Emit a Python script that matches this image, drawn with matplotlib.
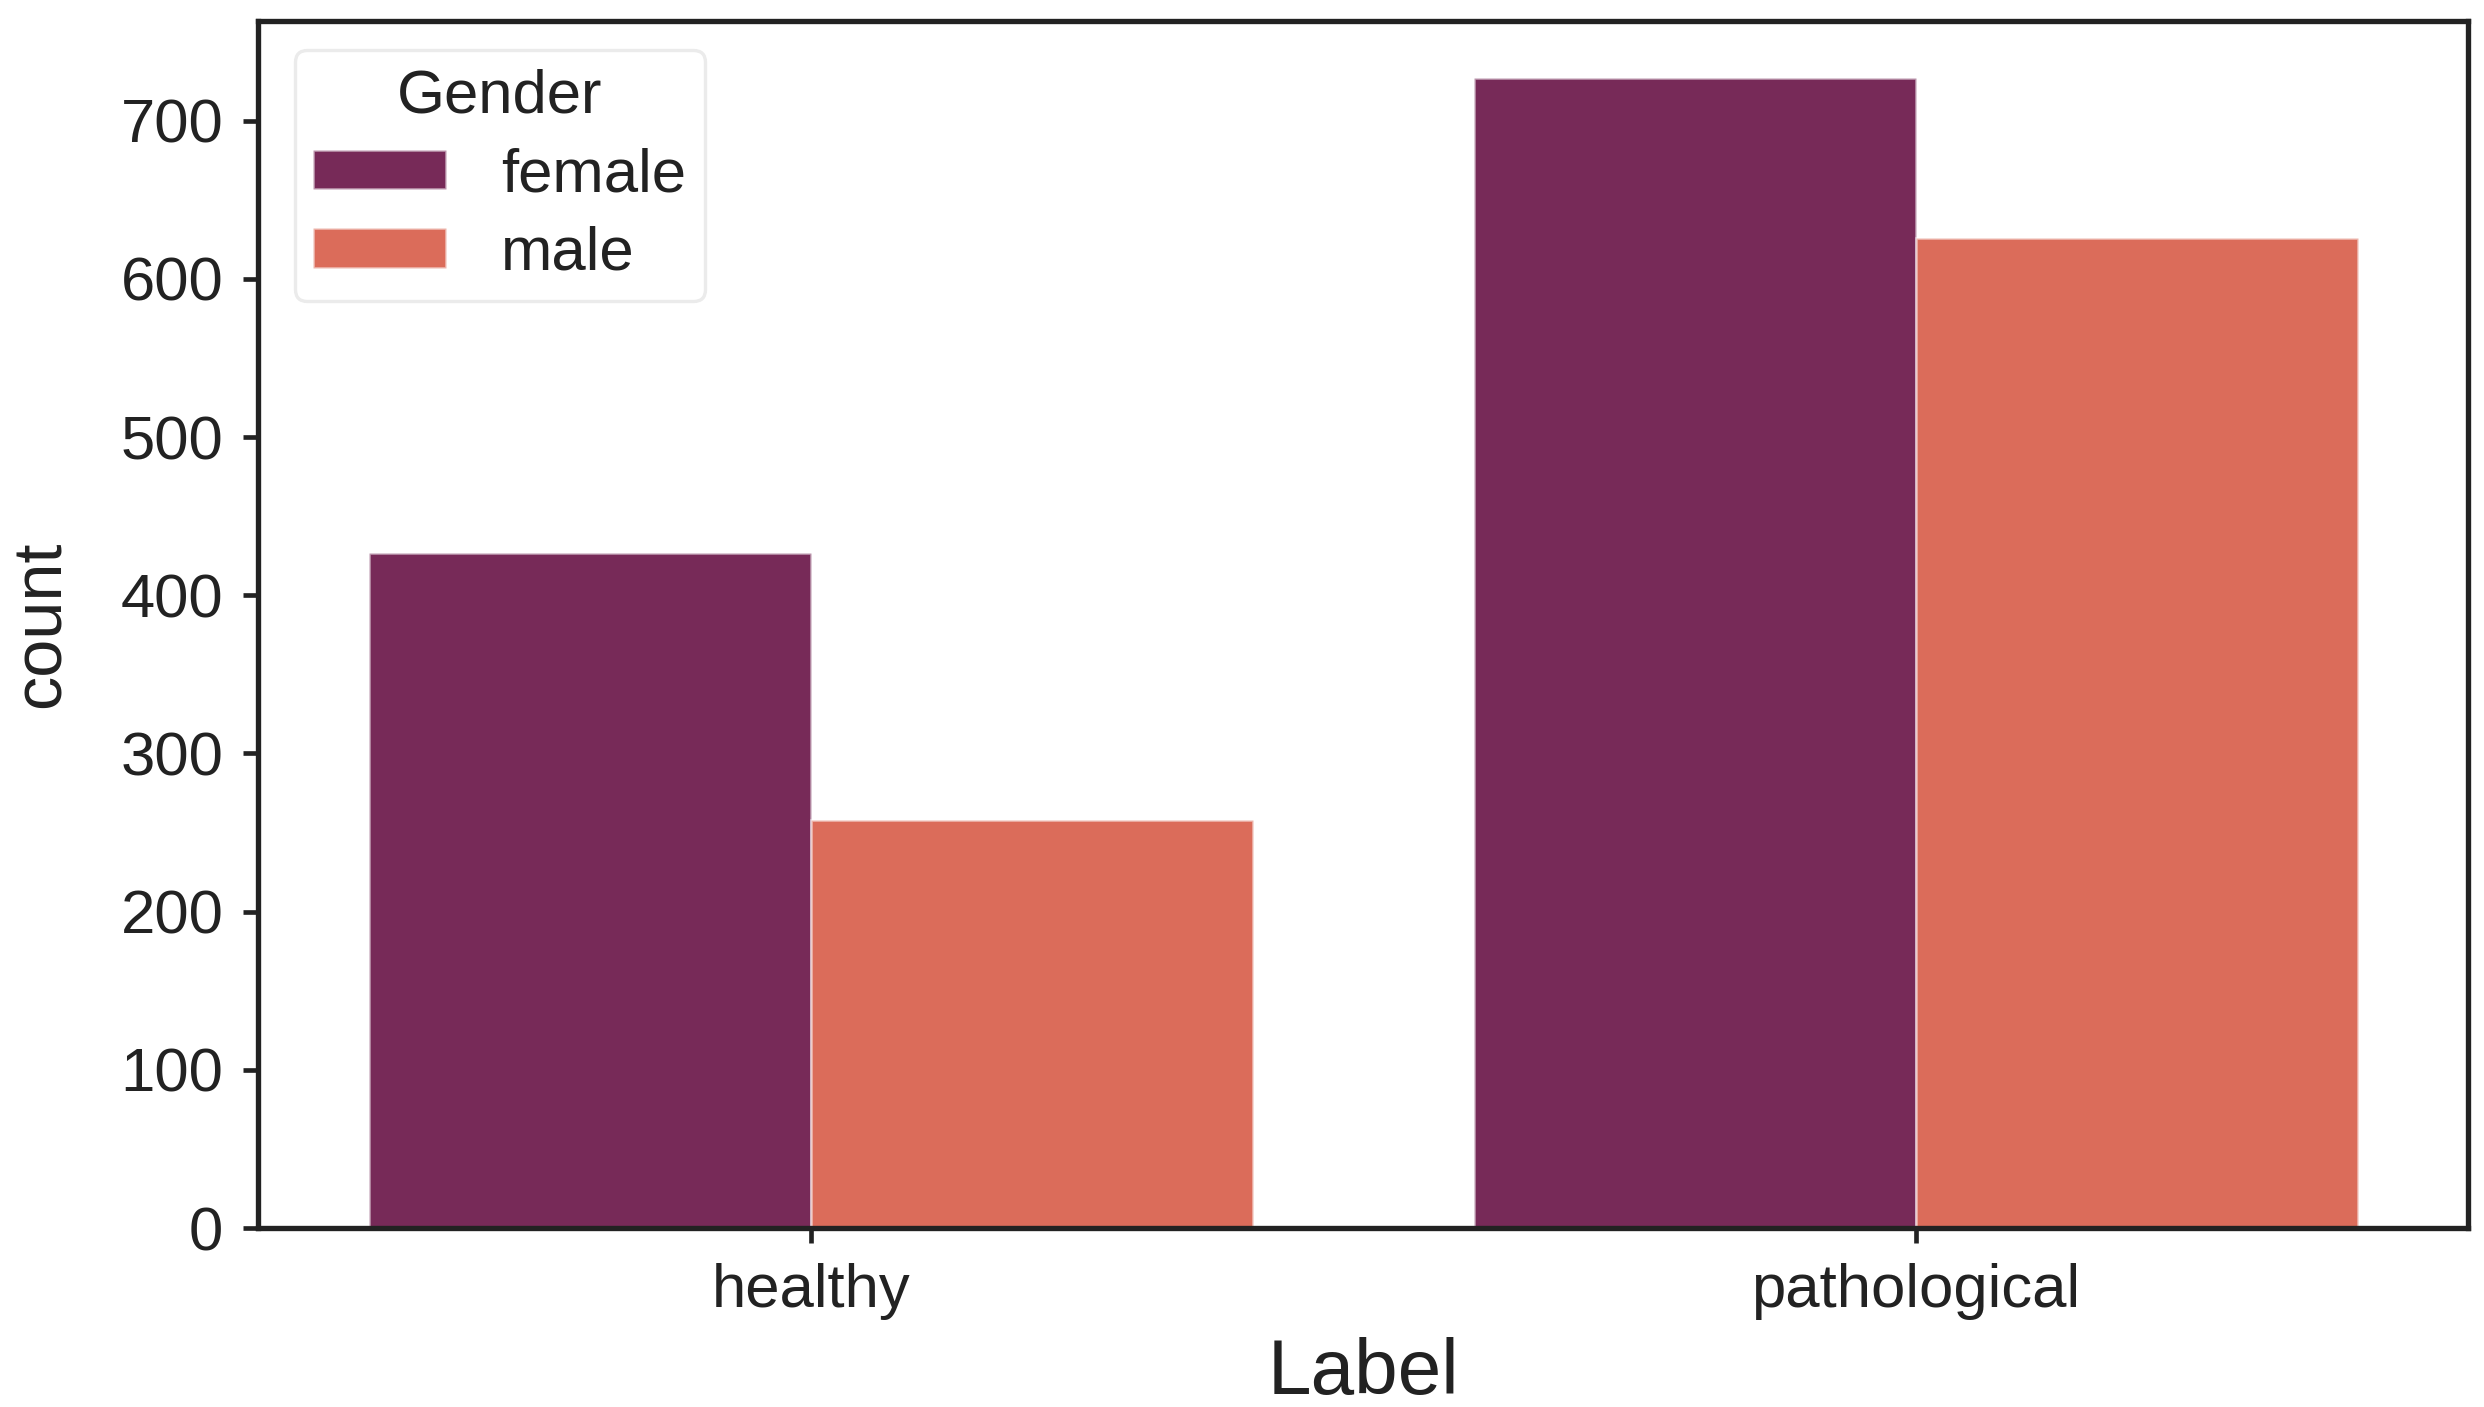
import matplotlib
matplotlib.use("Agg")
import matplotlib.pyplot as plt
import numpy as np

# data
labels = ["healthy", "pathological"]
genders = ["female", "male"]
female_counts = [427, 727]
male_counts = [258, 626]
colors = ["#772A58", "#DB6C5A"]

plt.rcParams["font.family"] = ["Liberation Sans", "DejaVu Sans"]

fig = plt.figure(figsize=(10.35, 5.8625), dpi=240)
ax = fig.add_axes([0.104, 0.1272, 0.8896, 0.8578])

x = np.arange(len(labels))
width = 0.4
series = [female_counts, male_counts]
for i, (g, vals) in enumerate(zip(genders, series)):
    ax.bar(x - width / 2 + i * width, vals, width, color=colors[i], label=g,
           edgecolor=(1, 1, 1, 0.5), linewidth=0.8)

ax.set_xlim(-0.5, 1.5)
ax.set_ylim(0, 763)
ax.set_xticks(x)
ax.set_xticklabels(labels)
ax.set_yticks(np.arange(0, 701, 100))
ax.tick_params(axis="both", labelsize=18.5, length=4.5, width=1.4, color="#222222",
               labelcolor="#222222", pad=6)
ax.set_xlabel("Label", fontsize=23.5, color="#222222", labelpad=5)
ax.set_ylabel("count", fontsize=20.5, color="#222222", labelpad=14)

for s in ax.spines.values():
    s.set_linewidth(1.6)
    s.set_color("#222222")

leg = ax.legend(title="Gender", loc="upper left", fontsize=18.5, title_fontsize=18.5,
                handlelength=2.15, handleheight=0.6, handletextpad=0.9,
                borderpad=0.3, labelspacing=0.35, fancybox=True,
                borderaxespad=0, bbox_to_anchor=(0.0165, 0.976))
leg.get_frame().set_edgecolor("#e6e6e6")
leg.get_frame().set_linewidth(1.0)
for t in leg.get_texts():
    t.set_color("#222222")
leg.get_title().set_color("#222222")

fig.savefig("out.png", dpi=240)
